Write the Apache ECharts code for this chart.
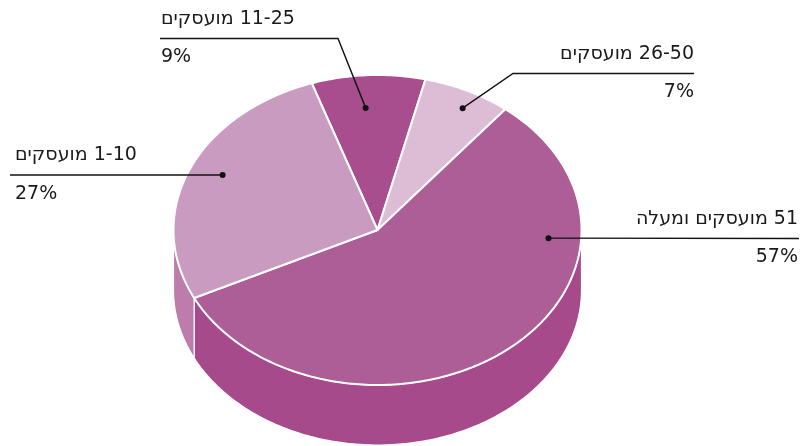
<!DOCTYPE html>
<html>
<head>
<meta charset="utf-8">
<script src="https://cdn.jsdelivr.net/npm/echarts@6/dist/echarts.min.js"></script>
<style>
  html, body { margin: 0; padding: 0; background: #fff; }
  #chart { width: 802px; height: 446px; }
</style>
</head>
<body>
<div id="chart" dir="rtl"></div>
<script>
// נתונים
const categories = ['11-25 מועסקים', '26-50 מועסקים', '51 מועסקים ומעלה', '1-10 מועסקים'];
const values = [9, 7, 57, 27];

// צבעים: פני העוגה / דופן
const topColors = ['#a84d8e', '#ddbcd6', '#ad5e97', '#c99bc1'];
const sideColors = ['#98407f', '#c9a0c0', '#a64a8b', '#be7cac'];

// גאומטריה
const pie = { cx: 377.5, cy: 230, rx: 204, ry: 155, depth: 60, startAngle: -18.8 };

// מיקום תוויות (frac = מיקום בתוך הפרוסה, r = רדיוס יחסי)
const labelLayout = [
  { frac: 0.45, r: 0.79, elbow: [338, 38.5], end: [160, 38.5], align: 'left', tx: 161 },
  { frac: 0.57, r: 0.89, elbow: [513, 73.5], end: [694, 73.5], align: 'right', tx: 694 },
  { frac: 0.267, r: 0.84, elbow: null, end: [799, 238.5], align: 'right', tx: 798 },
  { frac: 0.525, r: 0.838, elbow: null, end: [10, 175], align: 'left', tx: 15 }
];

const total = values.reduce((s, v) => s + v, 0);
const angles = [];
let acc = pie.startAngle;
values.forEach(v => {
  const span = v / total * 360;
  angles.push([acc, acc + span]);
  acc += span;
});

function pt(deg, r, dy) {
  const a = deg * Math.PI / 180;
  return [pie.cx + pie.rx * r * Math.sin(a), pie.cy - pie.ry * r * Math.cos(a) + (dy || 0)];
}
function arc(a0, a1, dy) {
  const pts = [];
  const n = Math.max(2, Math.ceil(Math.abs(a1 - a0)));
  for (let i = 0; i <= n; i++) pts.push(pt(a0 + (a1 - a0) * i / n, 1, dy));
  return pts;
}

const font = '19px "DejaVu Sans", "Liberation Sans", sans-serif';

function renderItem(params, api) {
  const i = params.dataIndex;
  const [a0, a1] = angles[i];
  const children = [];

  // דופן קדמית
  const lo = Math.max(a0, 90), hi = Math.min(a1, 270);
  if (hi > lo) {
    const pts = arc(lo, hi, 0).concat(arc(hi, lo, pie.depth));
    children.push({
      type: 'polygon', z2: 1,
      shape: { points: pts },
      style: { fill: sideColors[i], stroke: '#fff', lineWidth: 1.2, lineJoin: 'round' }
    });
  }

  // פני הפרוסה
  children.push({
    type: 'polygon', z2: 10,
    shape: { points: [[pie.cx, pie.cy]].concat(arc(a0, a1, 0)) },
    style: { fill: topColors[i], stroke: '#fff', lineWidth: 2, lineJoin: 'round' }
  });

  // תווית
  const lay = labelLayout[i];
  const dot = pt(a0 + (a1 - a0) * lay.frac, lay.r, 0);
  const linePts = [dot];
  if (lay.elbow) linePts.push(lay.elbow);
  linePts.push(lay.end);
  children.push({
    type: 'polyline', z2: 20,
    shape: { points: linePts },
    style: { stroke: '#111', lineWidth: 1.4, fill: null }
  });
  children.push({
    type: 'circle', z2: 21,
    shape: { cx: dot[0], cy: dot[1], r: 3 },
    style: { fill: '#111' }
  });
  const ly = lay.end[1];
  children.push({
    type: 'text', z2: 22,
    style: {
      text: categories[i], x: lay.tx, y: ly - 19.5, font: font, fill: '#1a1a1a',
      align: lay.align, verticalAlign: 'middle', textAlign: lay.align, textVerticalAlign: 'middle'
    }
  });
  children.push({
    type: 'text', z2: 22,
    style: {
      text: values[i] + '%', x: lay.tx, y: ly + 19, font: font, fill: '#1a1a1a',
      align: lay.align, verticalAlign: 'middle', textAlign: lay.align, textVerticalAlign: 'middle'
    }
  });

  return { type: 'group', children: children };
}

const chart = echarts.init(document.getElementById('chart'), null, { renderer: 'canvas' });
chart.setOption({
  backgroundColor: '#fff',
  animation: false,
  series: [{
    type: 'custom',
    coordinateSystem: 'none',
    silent: true,
    renderItem: renderItem,
    data: values.map((v, i) => ({ name: categories[i], value: v }))
  }]
});
</script>
</body>
</html>
